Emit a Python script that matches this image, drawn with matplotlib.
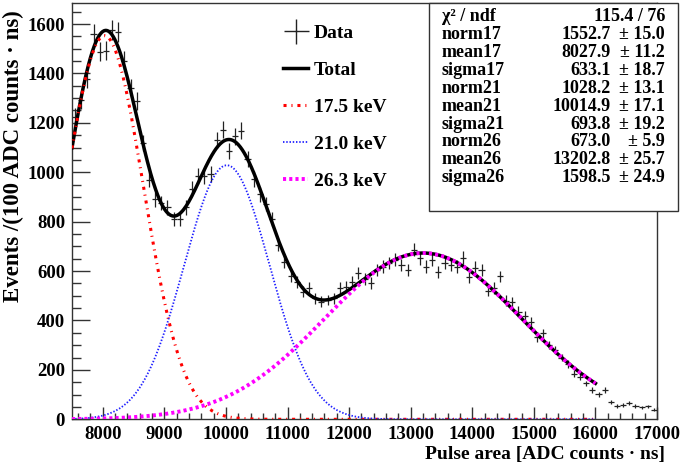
import numpy as np
import matplotlib
matplotlib.use("Agg")
import matplotlib.pyplot as plt
from matplotlib.patches import Rectangle
from matplotlib.lines import Line2D

# histogram: bins of 100 ADC counts*ns from 7500 to 17000
bin_lo, bin_hi, bin_w = 7500, 17000, 100
counts = [
    1225, 1293, 1378, 1560, 1487, 1491, 1575, 1568, 1452, 1340,
    1288, 1118, 970, 890, 876, 858, 812, 810, 858, 933,
    984, 985, 992, 1130, 1172, 1085, 1145, 1168, 1055, 973,
    910, 872, 811, 706, 638, 578, 557, 517, 531, 490,
    476, 483, 490, 531, 537, 557, 594, 567, 551, 605,
    618, 632, 646, 625, 605, 686, 652, 618, 645, 595,
    632, 625, 618, 654, 574, 614, 603, 520, 532, 578,
    480, 473, 436, 418, 393, 332, 348, 301, 281, 250,
    224, 185, 172, 145, 118, 102, 118, 69, 54, 57,
    66, 53, 48, 52, 38]

# fit results (3 gaussians), fit range 7500-16000
fit_lo, fit_hi = 7500, 16000
peaks = ["17.5 keV", "21.0 keV", "26.3 keV"]
norms = [1552.7, 1028.2, 673.0]
means = [8027.9, 10014.9, 13202.8]
sigmas = [633.1, 693.8, 1598.5]
norm_err = [15.0, 13.1, 5.9]
mean_err = [11.2, 17.1, 25.7]
sigma_err = [18.7, 19.2, 24.9]
tags = ["17", "21", "26"]
chi2_ndf = "115.4 / 76"

plt.rcParams["font.family"] = ["Liberation Serif", "DejaVu Serif"]
plt.rcParams["font.weight"] = "bold"

W, H = 685, 470
fig = plt.figure(figsize=(W / 100, H / 100), dpi=100)
ax = fig.add_axes([72 / W, 50.7 / H, 585 / W, 416.3 / H])

x = np.arange(bin_lo + bin_w / 2, bin_hi, bin_w)
y = np.array(counts, dtype=float)
ax.errorbar(x, y, xerr=bin_w / 2, yerr=np.sqrt(y), fmt="none", ecolor="#222222",
            elinewidth=0.9, capsize=0, zorder=2)

xf = np.linspace(fit_lo, fit_hi, 800)
comps = [n * np.exp(-0.5 * ((xf - m) / s) ** 2) for n, m, s in zip(norms, means, sigmas)]
styles = [
    dict(color="red", lw=2.2, ls=(0, (1, 1.6, 0.35, 1.6))),
    dict(color="#2020ff", lw=1.3, ls=(0, (0.8, 1.0))),
    dict(color="magenta", lw=2.8, ls=(0, (0.8, 0.8))),
]
ax.plot(xf, comps[0] + comps[1] + comps[2], color="black", lw=2.5, zorder=3)
for c, st in zip(comps, styles):
    ax.plot(xf, c, zorder=4, **st)

ax.set_xlim(bin_lo, bin_hi)
ax.set_ylim(0, 1685)
ax.set_xticks(np.arange(8000, 17001, 1000))
ax.set_xticks(np.arange(7600, 17001, 200), minor=True)
ax.set_yticks(np.arange(0, 1601, 200))
ax.set_yticks(np.arange(0, 1681, 50), minor=True)
ax.tick_params(axis="both", which="both", direction="in", top=False, right=False,
               labelsize=13.5, width=1, color="#333333")
ax.tick_params(axis="y", which="major", length=13, pad=5)
ax.tick_params(axis="y", which="minor", length=6.5)
ax.tick_params(axis="x", which="major", length=9, pad=5)
ax.tick_params(axis="x", which="minor", length=4.5)
for sp in ax.spines.values():
    sp.set_color("#333333")
    sp.set_linewidth(1)

fig.text(665 / W, 1 - 455 / H, "Pulse area [ADC counts · ns]", ha="right", va="center",
         fontsize=14)
fig.text(13 / W, 1 - 10 / H, "Events /(100 ADC counts · ns)", rotation=90, ha="center",
         va="top", fontsize=16.5)

handles = [Line2D([], [], color="#222222", marker="+", markersize=18, markeredgewidth=1, ls="none"),
           Line2D([], [], color="black", lw=2.5)]
handles += [Line2D([], [], **st) for st in styles]
ax.legend(handles, ["Data", "Total"] + peaks, loc="upper left",
          bbox_to_anchor=(283 / W, 1 - 24 / H), bbox_transform=fig.transFigure,
          frameon=False, fontsize=14, handlelength=1.3, handletextpad=0.3,
          labelspacing=1.0, borderpad=0, borderaxespad=0)

# stats box
fig.add_artist(Rectangle((429 / W, 1 - 211 / H), (678 - 429) / W, 208 / H,
                         transform=fig.transFigure, fc="white", ec="#333333", lw=1, zorder=5))
rows = [("χ² / ndf", chi2_ndf, "")]
for i, t in enumerate(tags):
    rows.append(("norm" + t, "%.1f" % norms[i], "± %.1f" % norm_err[i]))
    rows.append(("mean" + t, "%.1f" % means[i], "± %.1f" % mean_err[i]))
    rows.append(("sigma" + t, "%.1f" % sigmas[i], "± %.1f" % sigma_err[i]))
for i, (lab, val, er) in enumerate(rows):
    yy = 1 - (16.7 + 17.9 * i) / H
    fig.text(442 / W, yy, lab, ha="left", va="center", fontsize=13, zorder=6)
    if er:
        fig.text(611 / W, yy, val, ha="right", va="center", fontsize=13, zorder=6)
        fig.text(665 / W, yy, er, ha="right", va="center", fontsize=13, zorder=6)
    else:
        fig.text(665 / W, yy, val, ha="right", va="center", fontsize=13, zorder=6)

fig.savefig("out.png", dpi=100)
